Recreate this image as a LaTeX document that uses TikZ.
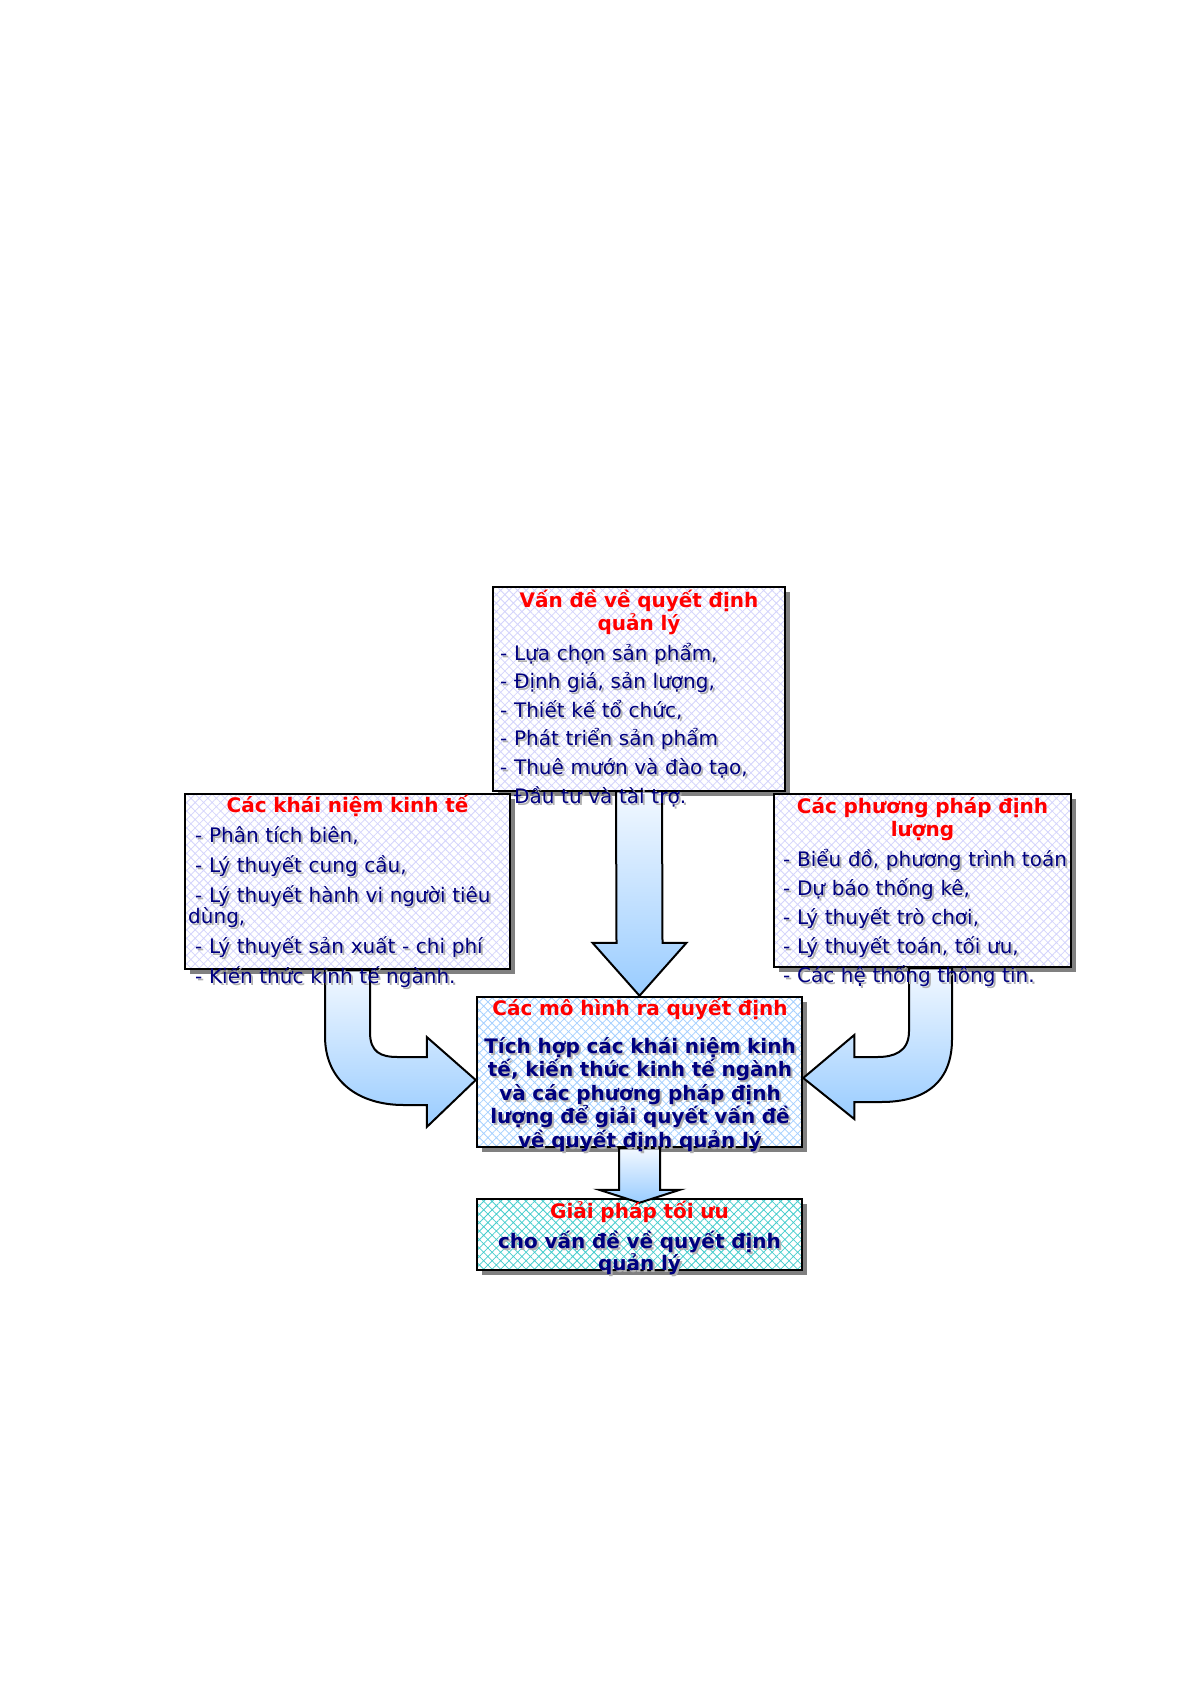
\documentclass[tikz,border=0pt]{standalone}
\usepackage{fontspec}
\setmainfont{DejaVu Sans}
\usetikzlibrary{calc,shadows,patterns.meta}
\lineskiplimit=-30pt

\definecolor{ttlred}{RGB}{255,0,0}
\definecolor{itmnavy}{RGB}{0,0,128}
\definecolor{txtgray}{RGB}{175,175,175}
\definecolor{boxgray}{RGB}{128,128,128}
\definecolor{latlav}{RGB}{212,212,252}
\definecolor{latblue}{RGB}{165,208,255}
\definecolor{latteal}{RGB}{70,205,205}
\definecolor{arrtop}{RGB}{242,248,255}
\definecolor{arrbot}{RGB}{153,204,255}

% text with a grey copy behind it
\newcommand\shtext[3]{%
  \node[#2,text=txtgray,xshift=2pt,yshift=-2pt] (#1-sh) {#3};
  \node[#2] (#1) {#3};}

\begin{document}
\begin{tikzpicture}[x=1pt,y=-1pt,
    card/.style={draw=black,line width=2.5pt,inner sep=0pt,
      drop shadow={shadow xshift=5pt,shadow yshift=-5pt,fill=boxgray,opacity=1},
      preaction={fill=white},
      pattern={Hatch[angle=45,distance=6pt,line width=0.8pt]},pattern color=#1},
    blockarrow/.style={draw=black,line width=2pt,line join=miter,
      top color=arrtop,bottom color=arrbot},
    boxtitle/.style={font=\fontsize{20}{23}\selectfont\bfseries,
      text=ttlred,anchor=base,align=center,inner sep=0pt,text width=#1},
    boxbody/.style={font=\fontsize{20}{#1}\selectfont\bfseries,
      text=itmnavy,anchor=base,align=center,inner sep=0pt,text width=325pt},
    boxitems/.style={font=\fontsize{20}{#1}\selectfont,
      text=itmnavy,anchor=base west,align=left,inner sep=0pt,text width=330pt},
  ]
  \fill[white] (0,0) rectangle (1192,1685);
  \useasboundingbox (0,0) rectangle (1192,1685);

  % top box
  \node[card=latlav,minimum width=292,minimum height=204] (problem) at (639,689) {};
  \node[card=latblue,minimum width=325,minimum height=150] (models) at (639.5,1072) {};
  \draw[blockarrow] ($(problem.south)+(-23,0)$) -- ($(models.north)+(-23,-53)$) -- ++(-24,0)
    -- (models.north) -- ++(47,-53) -- ++(-24,0) -- ($(problem.south)+(23,0)$) -- cycle;
  \node[boxtitle=292pt,at={(639,607)}] (problem-t) {Vấn đề về quyết định\\quản lý};
  \shtext{problem-i}{boxitems=28.6,at={(500,660)}}{- Lựa chọn sản phẩm,\\- Định giá, sản lượng,\\- Thiết kế tổ chức,\\- Phát triển sản phẩm\\- Thuê mướn và đào tạo,\\- Đầu tư và tài trợ.}

  % side boxes
  \node[card=latlav,minimum width=325,minimum height=175] (concepts) at (347.5,881.5) {};
  \node[card=latlav,minimum width=297,minimum height=173] (methods) at (922.5,880.5) {};
  \coordinate (ltip) at ($(models.west)+(0,8)$);
  \draw[blockarrow] ($(concepts.south)+(-22.5,0)$) -- ($(concepts.south)+(-22.5,66)$)
    .. controls ($(concepts.south)+(-22.5,111)$) and ($(ltip)+(-117,25)$) .. ($(ltip)+(-72,25)$)
    -- ($(ltip)+(-49,25)$) -- ($(ltip)+(-49,47)$) -- (ltip) -- ($(ltip)+(-49,-43)$)
    -- ($(ltip)+(-49,-23)$) -- ($(ltip)+(-78,-23)$)
    .. controls ($(ltip)+(-95,-23)$) and ($(concepts.south)+(22.5,82)$) .. ($(concepts.south)+(22.5,62)$)
    -- ($(concepts.south)+(22.5,0)$) -- cycle;
  \coordinate (rtip) at ($(models.east)+(0,6)$);
  \draw[blockarrow] ($(methods.south)+(-13.5,0)$) -- ($(methods.south)+(-13.5,63)$)
    .. controls ($(methods.south)+(-13.5,84)$) and ($(rtip)+(90,-21)$) .. ($(rtip)+(74,-21)$)
    -- ($(rtip)+(51,-21)$) -- ($(rtip)+(51,-43)$) -- (rtip) -- ($(rtip)+(51,41)$)
    -- ($(rtip)+(51,24)$) -- ($(rtip)+(78,24)$)
    .. controls ($(rtip)+(123,24)$) and ($(methods.south)+(29.5,113)$) .. ($(methods.south)+(29.5,71)$)
    -- ($(methods.south)+(29.5,0)$) -- cycle;
  \node[boxtitle=325pt,at={(347.5,812)}] (concepts-t) {Các khái niệm kinh tế};
  \shtext{concepts-i}{boxitems=30,at={(195,842)}}{- Phân tích biên,\\- Lý thuyết cung cầu,\\- Lý thuyết hành vi người tiêu}
  \shtext{concepts-w}{boxitems=30,at={(188,923)}}{dùng,}
  \shtext{concepts-j}{boxitems=30,at={(195,953)}}{- Lý thuyết sản xuất - chi phí\\- Kiến thức kinh tế ngành.}
  \node[boxtitle=297pt,at={(922.5,813)}] (methods-t) {Các phương pháp định\\lượng};
  \shtext{methods-i}{boxitems=29,at={(783,866)}}{- Biểu đồ, phương trình toán\\- Dự báo thống kê,\\- Lý thuyết trò chơi,\\- Lý thuyết toán, tối ưu,\\- Các hệ thống thông tin.}

  % lower boxes
  \node[card=latteal,minimum width=325,minimum height=71] (solution) at (639.5,1234.5) {};
  \draw[blockarrow] ($(models.south)+(-20.5,0)$) -- ($(solution.north)+(-20.5,-8)$) -- ++(-20,0)
    -- ($(solution.north)+(0,5)$) -- ++(40.5,-13) -- ++(-20,0) -- ($(models.south)+(20.5,0)$) -- cycle;
  \node[boxtitle=325pt,at={(640,1015)}] (models-t) {Các mô hình ra quyết định};
  \shtext{models-b}{boxbody=23.5,at={(640,1053)}}{Tích hợp các khái niệm kinh\\tế, kiến thức kinh tế ngành\\và các phương pháp định\\lượng để giải quyết vấn đề\\về quyết định quản lý}
  \node[boxtitle=325pt,at={(639.5,1218)}] (solution-t) {Giải pháp tối ưu};
  \shtext{solution-b}{boxbody=20,at={(639.5,1248)}}{cho vấn đề về quyết định\\quản lý}
\end{tikzpicture}
\end{document}
